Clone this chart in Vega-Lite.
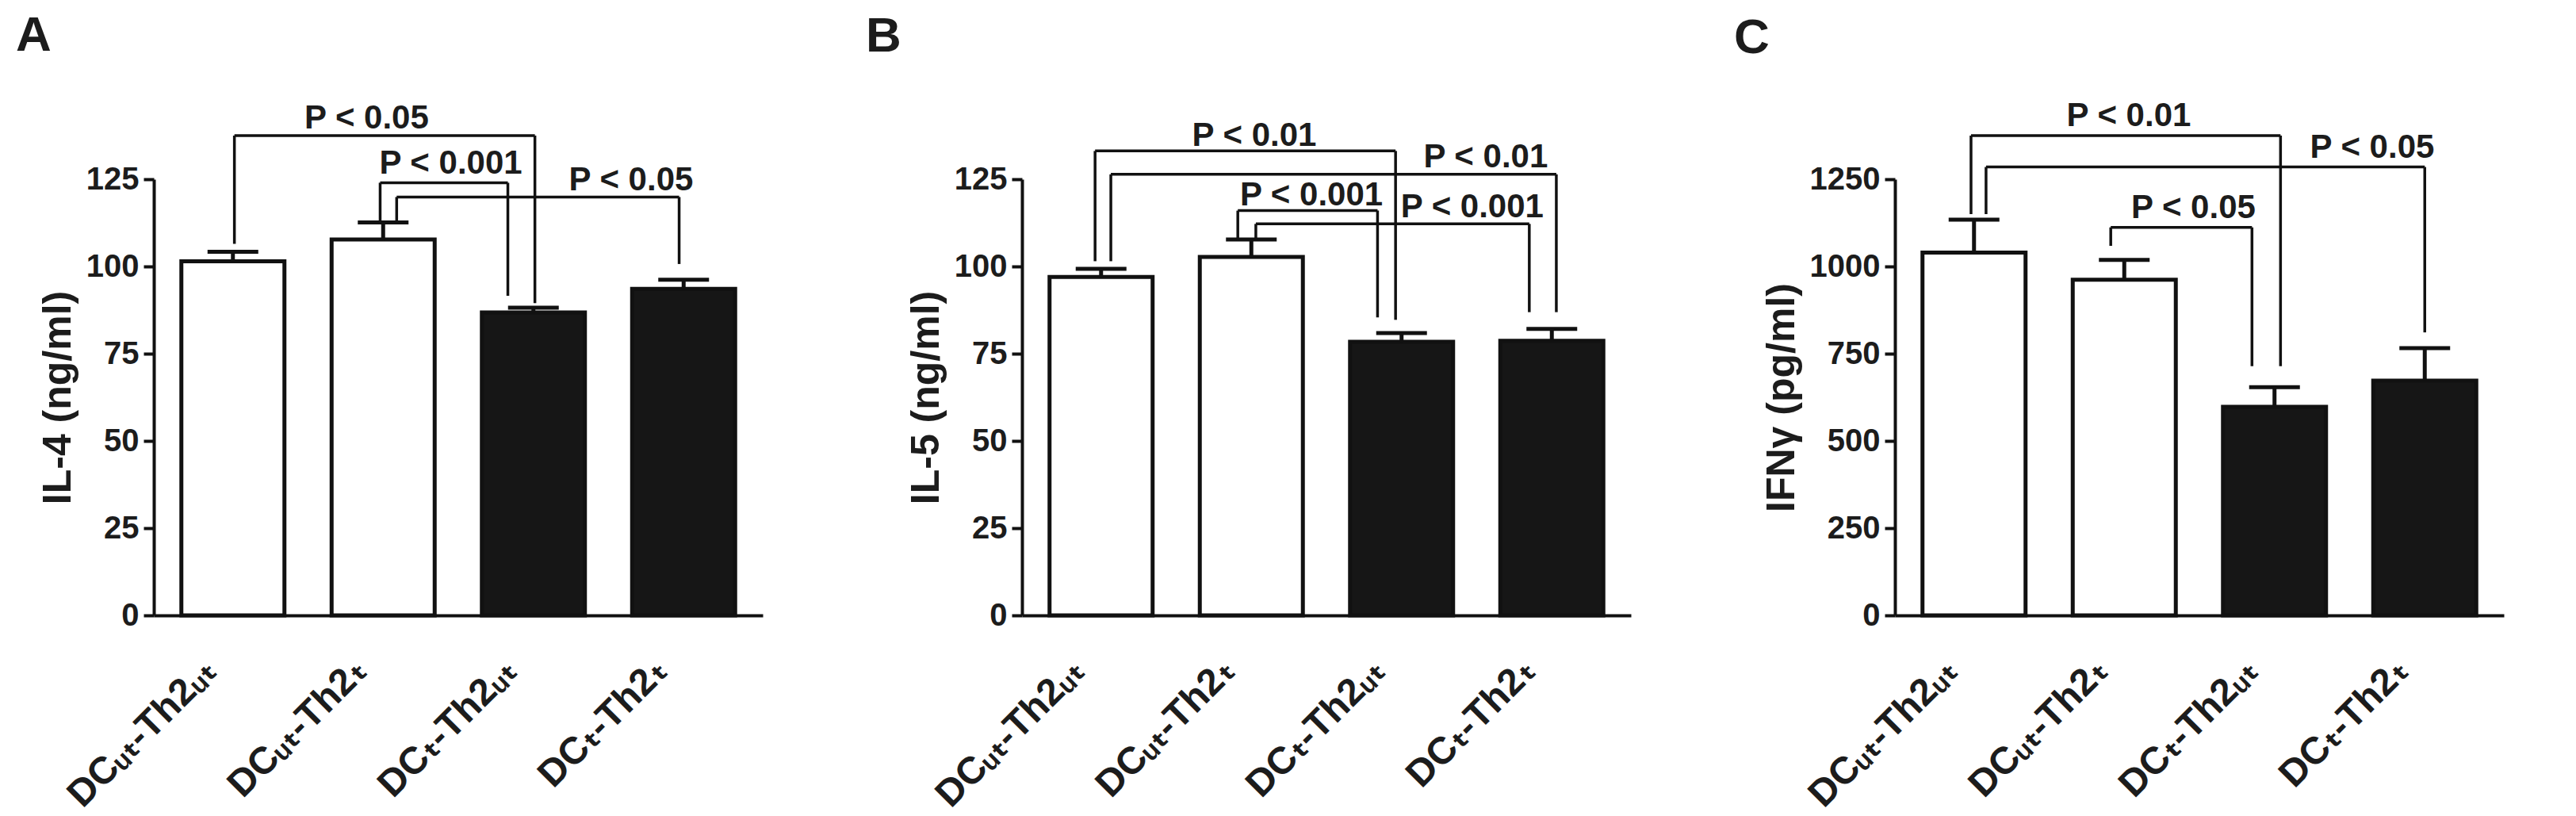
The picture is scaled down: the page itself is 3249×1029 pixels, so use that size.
{
  "$schema": "https://vega.github.io/schema/vega-lite/v6.json",
  "background": "white",
  "padding": {"left": 20, "top": 14, "right": 5, "bottom": 5},
  "spacing": 130,
  "config": {
    "font": "Liberation Sans, DejaVu Sans, Arial, sans-serif",
    "view": {"stroke": null},
    "axis": {"grid": false, "domainColor": "#111", "domainWidth": 4, "tickColor": "#111", "tickWidth": 4, "tickSize": 13, "labelFontSize": 40, "labelFontWeight": "bold", "labelColor": "#1c1c1c", "titleFontSize": 50, "titleFontWeight": "bold", "titleColor": "#1c1c1c", "labelPadding": 6, "titlePadding": 10, "labelLimit": 0},
    "title": {"fontSize": 62, "fontWeight": "bold", "color": "#1c1c1c", "anchor": "start", "frame": "group", "offset": 45}
  },
  "datasets": {
    "bars": [
      {"panel": "A", "pos": 1, "mean": 101.5, "upper": 104.2, "treated": "no"},
      {"panel": "A", "pos": 2, "mean": 107.7, "upper": 112.6, "treated": "no"},
      {"panel": "A", "pos": 3, "mean": 86.8, "upper": 88.2, "treated": "yes"},
      {"panel": "A", "pos": 4, "mean": 93.6, "upper": 96.2, "treated": "yes"},
      {"panel": "B", "pos": 1, "mean": 97.0, "upper": 99.3, "treated": "no"},
      {"panel": "B", "pos": 2, "mean": 102.7, "upper": 107.7, "treated": "no"},
      {"panel": "B", "pos": 3, "mean": 78.4, "upper": 80.9, "treated": "yes"},
      {"panel": "B", "pos": 4, "mean": 78.7, "upper": 82.1, "treated": "yes"},
      {"panel": "C", "pos": 1, "mean": 1040, "upper": 1134, "treated": "no"},
      {"panel": "C", "pos": 2, "mean": 962, "upper": 1019, "treated": "no"},
      {"panel": "C", "pos": 3, "mean": 598, "upper": 654, "treated": "yes"},
      {"panel": "C", "pos": 4, "mean": 673, "upper": 766, "treated": "yes"}
    ],
    "brackets": [
      {"panel": "A", "xl": 1.01, "xr": 3.01, "top": 137.5, "lb": 106.5, "rb": 89.5, "lx": 1.89, "ly": 142.5, "label": "P < 0.05"},
      {"panel": "A", "xl": 1.98, "xr": 2.83, "top": 124.0, "lb": 112.6, "rb": 91.6, "lx": 2.45, "ly": 129.5, "label": "P < 0.001"},
      {"panel": "A", "xl": 2.09, "xr": 3.97, "top": 119.9, "lb": 112.6, "rb": 100.7, "lx": 3.65, "ly": 124.7, "label": "P < 0.05"},
      {"panel": "B", "xl": 0.96, "xr": 2.96, "top": 133.1, "lb": 101.5, "rb": 84.7, "lx": 2.02, "ly": 137.6, "label": "P < 0.01"},
      {"panel": "B", "xl": 1.065, "xr": 4.03, "top": 126.4, "lb": 101.5, "rb": 86.9, "lx": 3.56, "ly": 131.3, "label": "P < 0.01"},
      {"panel": "B", "xl": 1.91, "xr": 2.84, "top": 116.0, "lb": 107.7, "rb": 85.4, "lx": 2.4, "ly": 120.5, "label": "P < 0.001"},
      {"panel": "B", "xl": 2.03, "xr": 3.85, "top": 112.2, "lb": 107.7, "rb": 86.9, "lx": 3.47, "ly": 117.0, "label": "P < 0.001"},
      {"panel": "C", "xl": 0.98, "xr": 3.04, "top": 1375, "lb": 1150, "rb": 714, "lx": 2.03, "ly": 1432, "label": "P < 0.01"},
      {"panel": "C", "xl": 1.08, "xr": 4.0, "top": 1285, "lb": 1150, "rb": 811, "lx": 3.65, "ly": 1340, "label": "P < 0.05"},
      {"panel": "C", "xl": 1.91, "xr": 2.85, "top": 1112, "lb": 1059, "rb": 714, "lx": 2.46, "ly": 1169, "label": "P < 0.05"}
    ]
  },
  "hconcat": [
    {
      "width": 768, "height": 550,
      "title": {"text": "A", "dx": -174, "dy": -6},
      "layer": [
        {"data": {"name": "bars"}, "transform": [{"filter": "datum.panel === 'A'"}],
         "mark": {"type": "bar", "size": 130, "stroke": "#111", "strokeWidth": 5},
         "encoding": {
           "x": {"field": "pos", "type": "quantitative", "scale": {"domain": [0.5, 4.5], "nice": false, "zero": false},
                 "axis": {"values": [1, 2, 3, 4], "labelExpr": "['', 'DCᵤₜ-Th2ᵤₜ', 'DCᵤₜ-Th2ₜ', 'DCₜ-Th2ᵤₜ', 'DCₜ-Th2ₜ'][datum.value]", "labelAngle": -45, "labelAlign": "right", "labelBaseline": "top", "ticks": false, "title": null, "labelPadding": 45, "labelOffset": -45, "labelFontSize": 48, "labelOverlap": false, "labelFlush": false, "labelBound": false}},
           "y": {"field": "mean", "type": "quantitative", "scale": {"domain": [0, 125], "nice": false}, "axis": {"values": [0, 25, 50, 75, 100, 125], "format": "d", "title": "IL-4 (ng/ml)"}},
           "fill": {"field": "treated", "type": "nominal", "scale": {"domain": ["no", "yes"], "range": ["#ffffff", "#161616"]}, "legend": null}
         }},
        {"data": {"name": "bars"}, "transform": [{"filter": "datum.panel === 'A'"}],
         "mark": {"type": "rule", "strokeWidth": 5, "color": "#111"},
         "encoding": {"x": {"field": "pos", "type": "quantitative"}, "y": {"field": "mean", "type": "quantitative"}, "y2": {"field": "upper"}}},
        {"data": {"name": "bars"}, "transform": [{"filter": "datum.panel === 'A'"}],
         "mark": {"type": "tick", "orient": "horizontal", "size": 64, "thickness": 5, "color": "#111", "opacity": 1},
         "encoding": {"x": {"field": "pos", "type": "quantitative"}, "y": {"field": "upper", "type": "quantitative"}}},
        {"data": {"name": "brackets"}, "transform": [{"filter": "datum.panel === 'A'"}],
         "mark": {"type": "rule", "strokeWidth": 3.5, "color": "#111"},
         "encoding": {"x": {"field": "xl", "type": "quantitative"}, "x2": {"field": "xr"}, "y": {"field": "top", "type": "quantitative"}}},
        {"data": {"name": "brackets"}, "transform": [{"filter": "datum.panel === 'A'"}],
         "mark": {"type": "rule", "strokeWidth": 3.5, "color": "#111"},
         "encoding": {"x": {"field": "xl", "type": "quantitative"}, "y": {"field": "lb", "type": "quantitative"}, "y2": {"field": "top"}}},
        {"data": {"name": "brackets"}, "transform": [{"filter": "datum.panel === 'A'"}],
         "mark": {"type": "rule", "strokeWidth": 3.5, "color": "#111"},
         "encoding": {"x": {"field": "xr", "type": "quantitative"}, "y": {"field": "rb", "type": "quantitative"}, "y2": {"field": "top"}}},
        {"data": {"name": "brackets"}, "transform": [{"filter": "datum.panel === 'A'"}],
         "mark": {"type": "text", "fontSize": 42, "fontWeight": "bold", "baseline": "middle", "align": "center", "color": "#1c1c1c"},
         "encoding": {"x": {"field": "lx", "type": "quantitative"}, "y": {"field": "ly", "type": "quantitative"}, "text": {"field": "label"}}}
      ]
    },
    {
      "width": 768, "height": 550,
      "title": {"text": "B", "dx": -197, "dy": -27},
      "layer": [
        {"data": {"name": "bars"}, "transform": [{"filter": "datum.panel === 'B'"}],
         "mark": {"type": "bar", "size": 130, "stroke": "#111", "strokeWidth": 5},
         "encoding": {
           "x": {"field": "pos", "type": "quantitative", "scale": {"domain": [0.5, 4.5], "nice": false, "zero": false},
                 "axis": {"values": [1, 2, 3, 4], "labelExpr": "['', 'DCᵤₜ-Th2ᵤₜ', 'DCᵤₜ-Th2ₜ', 'DCₜ-Th2ᵤₜ', 'DCₜ-Th2ₜ'][datum.value]", "labelAngle": -45, "labelAlign": "right", "labelBaseline": "top", "ticks": false, "title": null, "labelPadding": 45, "labelOffset": -45, "labelFontSize": 48, "labelOverlap": false, "labelFlush": false, "labelBound": false}},
           "y": {"field": "mean", "type": "quantitative", "scale": {"domain": [0, 125], "nice": false}, "axis": {"values": [0, 25, 50, 75, 100, 125], "format": "d", "title": "IL-5 (ng/ml)"}},
           "fill": {"field": "treated", "type": "nominal", "scale": {"domain": ["no", "yes"], "range": ["#ffffff", "#161616"]}, "legend": null}
         }},
        {"data": {"name": "bars"}, "transform": [{"filter": "datum.panel === 'B'"}],
         "mark": {"type": "rule", "strokeWidth": 5, "color": "#111"},
         "encoding": {"x": {"field": "pos", "type": "quantitative"}, "y": {"field": "mean", "type": "quantitative"}, "y2": {"field": "upper"}}},
        {"data": {"name": "bars"}, "transform": [{"filter": "datum.panel === 'B'"}],
         "mark": {"type": "tick", "orient": "horizontal", "size": 64, "thickness": 5, "color": "#111", "opacity": 1},
         "encoding": {"x": {"field": "pos", "type": "quantitative"}, "y": {"field": "upper", "type": "quantitative"}}},
        {"data": {"name": "brackets"}, "transform": [{"filter": "datum.panel === 'B'"}],
         "mark": {"type": "rule", "strokeWidth": 3.5, "color": "#111"},
         "encoding": {"x": {"field": "xl", "type": "quantitative"}, "x2": {"field": "xr"}, "y": {"field": "top", "type": "quantitative"}}},
        {"data": {"name": "brackets"}, "transform": [{"filter": "datum.panel === 'B'"}],
         "mark": {"type": "rule", "strokeWidth": 3.5, "color": "#111"},
         "encoding": {"x": {"field": "xl", "type": "quantitative"}, "y": {"field": "lb", "type": "quantitative"}, "y2": {"field": "top"}}},
        {"data": {"name": "brackets"}, "transform": [{"filter": "datum.panel === 'B'"}],
         "mark": {"type": "rule", "strokeWidth": 3.5, "color": "#111"},
         "encoding": {"x": {"field": "xr", "type": "quantitative"}, "y": {"field": "rb", "type": "quantitative"}, "y2": {"field": "top"}}},
        {"data": {"name": "brackets"}, "transform": [{"filter": "datum.panel === 'B'"}],
         "mark": {"type": "text", "fontSize": 42, "fontWeight": "bold", "baseline": "middle", "align": "center", "color": "#1c1c1c"},
         "encoding": {"x": {"field": "lx", "type": "quantitative"}, "y": {"field": "ly", "type": "quantitative"}, "text": {"field": "label"}}}
      ]
    },
    {
      "width": 768, "height": 550,
      "title": {"text": "C", "dx": -203},
      "layer": [
        {"data": {"name": "bars"}, "transform": [{"filter": "datum.panel === 'C'"}],
         "mark": {"type": "bar", "size": 130, "stroke": "#111", "strokeWidth": 5},
         "encoding": {
           "x": {"field": "pos", "type": "quantitative", "scale": {"domain": [0.5, 4.5], "nice": false, "zero": false},
                 "axis": {"values": [1, 2, 3, 4], "labelExpr": "['', 'DCᵤₜ-Th2ᵤₜ', 'DCᵤₜ-Th2ₜ', 'DCₜ-Th2ᵤₜ', 'DCₜ-Th2ₜ'][datum.value]", "labelAngle": -45, "labelAlign": "right", "labelBaseline": "top", "ticks": false, "title": null, "labelPadding": 45, "labelOffset": -45, "labelFontSize": 48, "labelOverlap": false, "labelFlush": false, "labelBound": false}},
           "y": {"field": "mean", "type": "quantitative", "scale": {"domain": [0, 1250], "nice": false}, "axis": {"values": [0, 250, 500, 750, 1000, 1250], "format": "d", "title": "IFNγ (pg/ml)"}},
           "fill": {"field": "treated", "type": "nominal", "scale": {"domain": ["no", "yes"], "range": ["#ffffff", "#161616"]}, "legend": null}
         }},
        {"data": {"name": "bars"}, "transform": [{"filter": "datum.panel === 'C'"}],
         "mark": {"type": "rule", "strokeWidth": 5, "color": "#111"},
         "encoding": {"x": {"field": "pos", "type": "quantitative"}, "y": {"field": "mean", "type": "quantitative"}, "y2": {"field": "upper"}}},
        {"data": {"name": "bars"}, "transform": [{"filter": "datum.panel === 'C'"}],
         "mark": {"type": "tick", "orient": "horizontal", "size": 64, "thickness": 5, "color": "#111", "opacity": 1},
         "encoding": {"x": {"field": "pos", "type": "quantitative"}, "y": {"field": "upper", "type": "quantitative"}}},
        {"data": {"name": "brackets"}, "transform": [{"filter": "datum.panel === 'C'"}],
         "mark": {"type": "rule", "strokeWidth": 3.5, "color": "#111"},
         "encoding": {"x": {"field": "xl", "type": "quantitative"}, "x2": {"field": "xr"}, "y": {"field": "top", "type": "quantitative"}}},
        {"data": {"name": "brackets"}, "transform": [{"filter": "datum.panel === 'C'"}],
         "mark": {"type": "rule", "strokeWidth": 3.5, "color": "#111"},
         "encoding": {"x": {"field": "xl", "type": "quantitative"}, "y": {"field": "lb", "type": "quantitative"}, "y2": {"field": "top"}}},
        {"data": {"name": "brackets"}, "transform": [{"filter": "datum.panel === 'C'"}],
         "mark": {"type": "rule", "strokeWidth": 3.5, "color": "#111"},
         "encoding": {"x": {"field": "xr", "type": "quantitative"}, "y": {"field": "rb", "type": "quantitative"}, "y2": {"field": "top"}}},
        {"data": {"name": "brackets"}, "transform": [{"filter": "datum.panel === 'C'"}],
         "mark": {"type": "text", "fontSize": 42, "fontWeight": "bold", "baseline": "middle", "align": "center", "color": "#1c1c1c"},
         "encoding": {"x": {"field": "lx", "type": "quantitative"}, "y": {"field": "ly", "type": "quantitative"}, "text": {"field": "label"}}}
      ]
    }
  ]
}
